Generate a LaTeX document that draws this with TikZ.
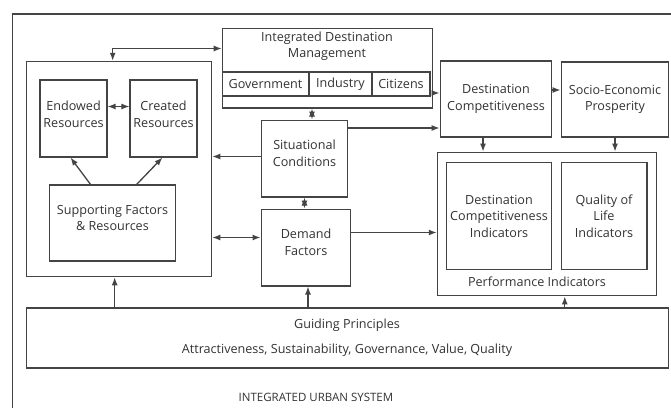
\documentclass[tikz,border=0pt]{standalone}
\usepackage{fontspec}
\setmainfont{Open Sans}
\usetikzlibrary{arrows.meta,calc}
\definecolor{linegray}{HTML}{444444}
\definecolor{textgray}{HTML}{333333}
\begin{document}
\begin{tikzpicture}[x=1bp,y=-1bp,
  font=\fontsize{12.6bp}{16.5bp}\selectfont,
  every node/.style={text=textgray},
  box/.style={draw=linegray,line width=1.3bp,inner sep=0pt,align=center},
  tip/.tip={Latex[length=8bp,width=6bp]},
  arr/.style={draw=linegray,line width=1.3bp,-tip},
  darr/.style={draw=linegray,line width=1.3bp,tip-tip}]
\useasboundingbox (0,0) rectangle (671,407);
\fill[white] (0,0) rectangle (671,407);
% outer frame of the urban system
\draw[linegray,line width=1.2bp] (690,14) -- (12.5,14) -- (12.5,420);
% helper: box from corner to corner
\newcommand{\cbox}[6][]{\node[box,#1,minimum width={#4-#2},minimum height={#5-#3}] (#6) at ({(#2+#4)/2},{(#3+#5)/2}) {};}
% boxes
\cbox{222}{28}{433}{108}{idm}
\node[align=center] at (327,46) {Integrated Destination\\Management};
\cbox{222}{72}{309}{96}{gov}
\cbox{309}{72}{372}{96}{ind}
\cbox{372}{72}{430}{96}{cit}
\node at (gov) {Government};
\node at (ind) {Industry};
\node at (cit) {Citizens};
\cbox{26}{61}{212}{277}{lbox}
\cbox{40}{80}{107}{157}{endowed}
\node[align=center] at ($(endowed)+(0,-4)$) {Endowed\\Resources};
\cbox{130}{80}{197}{157}{created}
\node[align=center] at ($(created)+(0,-4)$) {Created\\Resources};
\cbox{49}{185}{176}{261}{support}
\node[align=center] at ($(support)+(0,-5)$) {Supporting Factors\\\& Resources};
\cbox{261}{120}{348}{197}{sit}
\node[align=center] at ($(sit)+(0,-5)$) {Situational\\Conditions};
\cbox{261}{209}{351}{286}{demand}
\node[align=center] at ($(demand)+(0,-5)$) {Demand\\Factors};
\cbox{440}{61}{552}{137}{dc}
\node[align=center] at (dc) {Destination\\Competitiveness};
\cbox{561}{62}{669}{137}{se}
\node[align=center] at (se) {Socio-Economic\\Prosperity};
\cbox{437}{152}{657}{296}{perf}
\cbox{446}{162}{552}{270}{dci}
\node[align=center] at (dci) {Destination\\Competitiveness\\Indicators};
\cbox{561}{162}{647}{270}{qol}
\node[align=center] at (qol) {Quality of\\Life\\Indicators};
\node at (537,282) {Performance Indicators};
\cbox{25}{308}{670}{368}{guide}
\node at (347,325) {Guiding Principles};
\node at (347,350) {Attractiveness, Sustainability, Governance, Value, Quality};
\node[font=\fontsize{11.5bp}{13bp}\selectfont] at (316,397) {INTEGRATED URBAN SYSTEM};
% connectors
\coordinate (lt) at ($(lbox.north west)+(87,0)$);
\coordinate (it) at ($(idm.north west)+(0,21)$);
\draw[darr] (lt) |- (it);
\coordinate (ec) at ($(endowed.east)+(0,-12)$);
\draw[darr] (ec) -- (ec -| created.west);
\draw[arr] ($(support.north west)+(42,0)$) -- ($(endowed.south west)+(31,0)$);
\draw[arr] ($(support.north west)+(88,0)$) -- ($(created.south west)+(33,0)$);
\coordinate (sw) at ($(sit.west)+(0,-2)$);
\draw[arr] (sw) -- (sw -| lbox.east);
\coordinate (sn) at ($(sit.north)+(7.5,0)$);
\draw[darr] (sn) -- (sn |- idm.south);
\draw[darr] (sit.south) -- (sit.south |- demand.north);
\coordinate (dw) at ($(demand.west)+(0,-10)$);
\draw[darr] (dw) -- (dw -| lbox.east);
\coordinate (gl) at ($(lbox.south west)+(89,0)$);
\draw[arr] (gl |- guide.north) -- (gl);
\coordinate (gd) at ($(demand.south)+(2,0)$);
\draw[arr] (gd |- guide.north) -- (gd);
\coordinate (gp) at ($(perf.south west)+(128,0)$);
\draw[arr] (gp |- guide.north) -- (gp);
\coordinate (de) at ($(demand.east)+(0,-15)$);
\draw[arr] (de) -- (de -| perf.west);
\coordinate (sce) at ($(sit.east)+(0,-30.5)$);
\draw[arr] (sce) -- (sce -| dc.west);
\coordinate (ie) at ($(idm.east)+(0,25)$);
\draw[arr] (ie) -- (ie -| dc.west);
\coordinate (dce) at ($(dc.east)+(0,-9)$);
\draw[arr] (dce) -- (dce -| se.west);
\coordinate (dcs) at ($(dc.south)+(-13,0)$);
\draw[arr] (dcs) -- (dcs |- perf.north);
\draw[arr] (se.south) -- (se.south |- perf.north);
\end{tikzpicture}
\end{document}
